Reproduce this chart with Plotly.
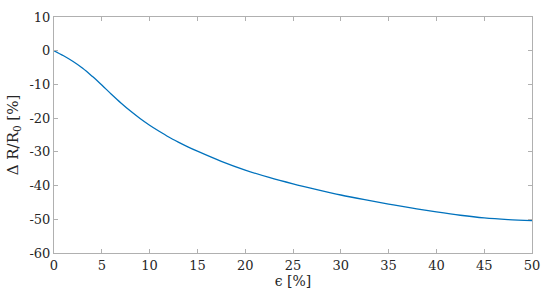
import plotly.graph_objects as go

strain = [0, 1, 2, 3, 4, 5, 6, 7, 8, 9, 10, 11, 12, 13, 14, 15, 17.5, 20,
          22.5, 25, 27.5, 30, 32.5, 35, 37.5, 40, 42.5, 45, 47.5, 50]
delta_r = [0, -1.5, -3.2, -5.2, -7.6, -10.2, -12.9, -15.5, -17.9, -20.1,
           -22.1, -23.9, -25.6, -27.1, -28.5, -29.8, -32.8, -35.4, -37.6,
           -39.5, -41.2, -42.8, -44.2, -45.5, -46.7, -47.8, -48.8, -49.6,
           -50.1, -50.4]

x_ticks = [0, 5, 10, 15, 20, 25, 30, 35, 40, 45, 50]
y_ticks = [10, 0, -10, -20, -30, -40, -50, -60]
y_tick_text = ["10", "0", "-10", "-20", "-30", "-40", "-50", "-60"]

SERIF = "DejaVu Serif"

fig = go.Figure(go.Scatter(
    x=strain,
    y=delta_r,
    mode="lines",
    line=dict(color="#0072BD", width=1.3, shape="spline", smoothing=1),
    showlegend=False,
))

axis_style = dict(
    showline=True,
    linecolor="#b0b0b0",
    linewidth=1,
    mirror="ticks",
    ticks="inside",
    ticklen=4,
    tickcolor="#b0b0b0",
    showgrid=False,
    zeroline=False,
    ticklabeloverflow="allow",
    tickfont=dict(family=SERIF, size=13, color="#262626"),
)

fig.update_layout(
    width=550,
    height=300,
    margin=dict(l=54, r=12, t=10, b=47),
    plot_bgcolor="white",
    paper_bgcolor="white",
    font=dict(family=SERIF, size=13, color="#262626"),
)
fig.update_xaxes(
    range=[0, 50],
    tickvals=x_ticks,
    title=dict(text="ϵ [%]", standoff=3, font=dict(family=SERIF, size=14)),
    **axis_style,
)
fig.update_yaxes(
    range=[-60, 10],
    tickvals=y_ticks,
    ticktext=y_tick_text,
    title=dict(text="Δ R/R<sub>0</sub> [%]", standoff=7, font=dict(family=SERIF, size=15)),
    **axis_style,
)

fig.write_html("out.html", config={"displayModeBar": False},
               post_script="document.body.style.margin='0';")
